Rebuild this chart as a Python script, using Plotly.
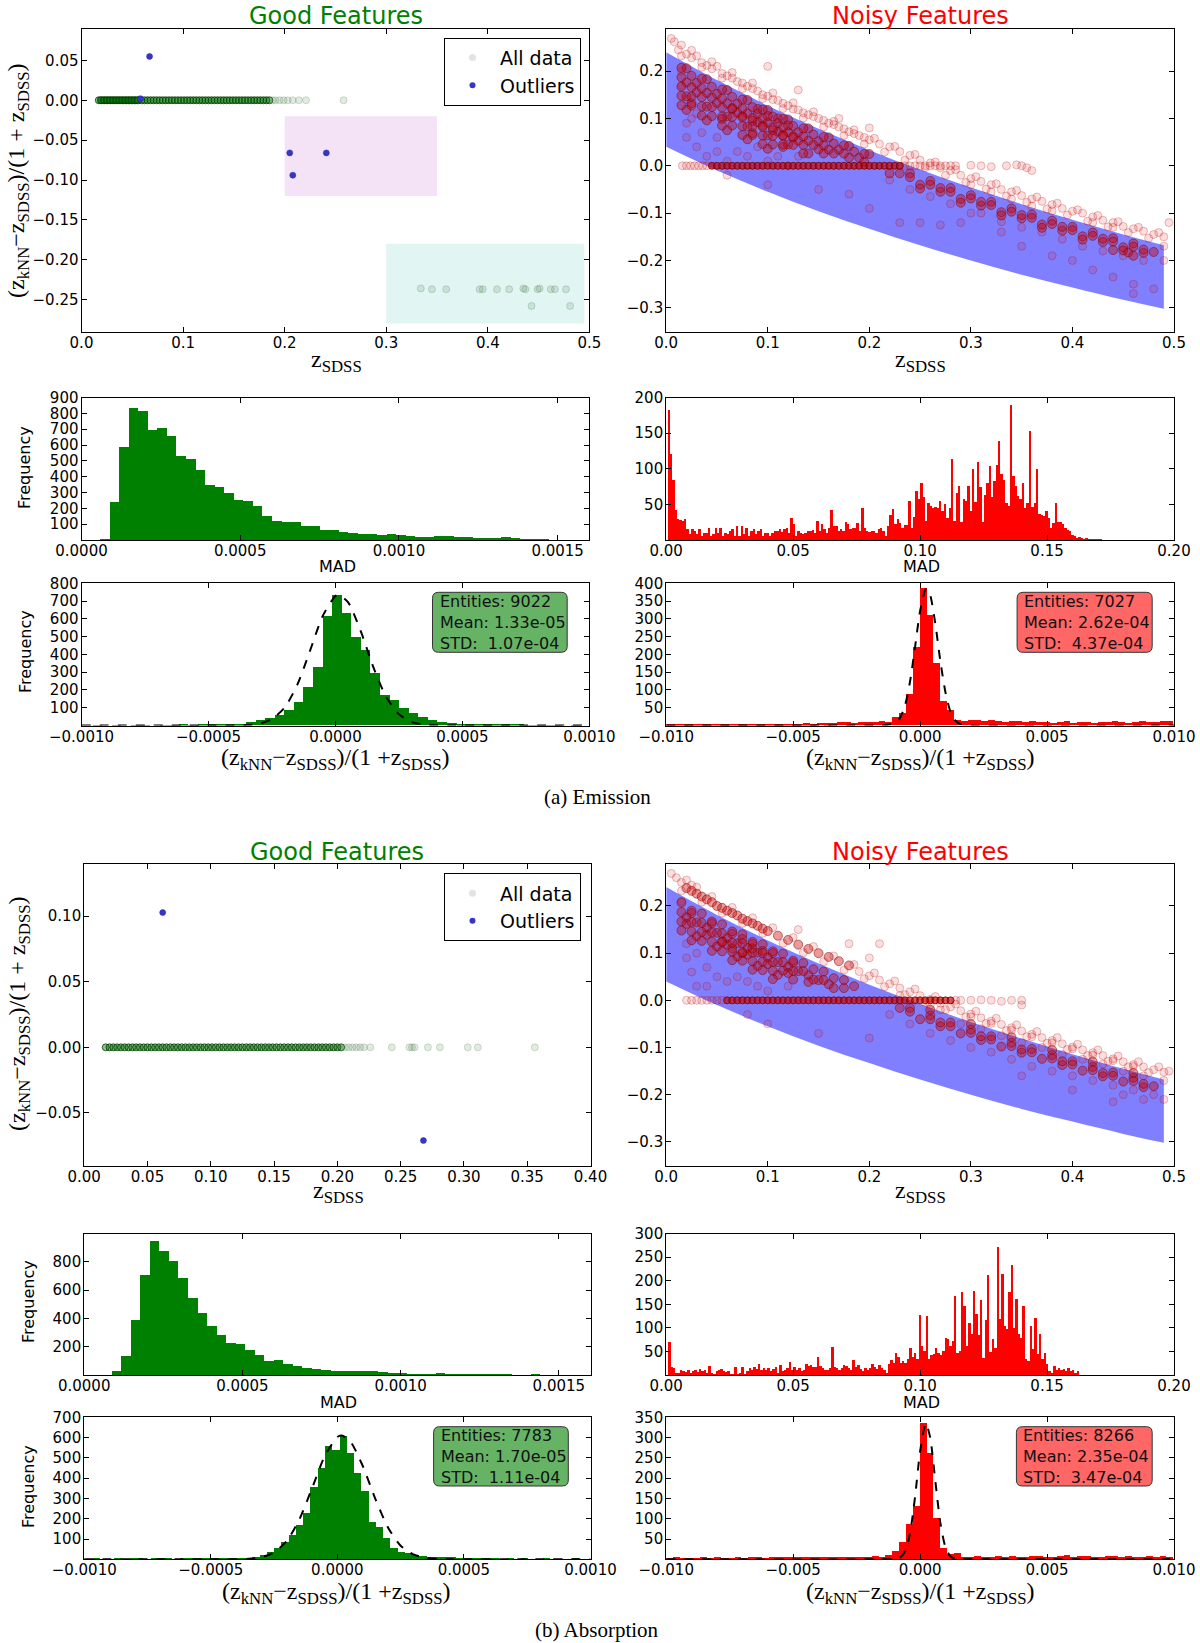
import plotly.graph_objects as go

W, H = 1200, 1643

# ============================ DATA ============================
# ---------- (a) Emission : Good Features scatter ----------
emi_good_x = [0.017,0.020,0.023,0.026,0.029,0.032,0.035,0.038,0.041,0.044,0.047,0.050,0.053,0.056,0.059,
              0.062,0.065,0.068,0.071,0.074,0.077,0.080,0.083,0.086,0.089,0.092,0.095,0.098,0.101,0.104,
              0.107,0.110,0.113,0.116,0.119,0.122,0.125,0.128,0.131,0.134,0.137,0.140,0.143,0.146,0.149,
              0.152,0.155,0.158,0.161,0.164,0.167,0.170,0.173,0.176,0.179,0.182,0.185,
              0.019,0.022,0.025,0.028,0.031,0.034,0.037,0.040,0.043,0.046,0.049,0.052,0.055]
emi_good_y = [0.0,0.0,0.0,0.0,0.0,0.0,0.0,0.0,0.0,0.0,0.0,0.0,0.0,0.0,0.0,
              0.0,0.0,0.0,0.0,0.0,0.0,0.0,0.0,0.0,0.0,0.0,0.0,0.0,0.0,0.0,
              0.0,0.0,0.0,0.0,0.0,0.0,0.0,0.0,0.0,0.0,0.0,0.0,0.0,0.0,0.0,
              0.0,0.0,0.0,0.0,0.0,0.0,0.0,0.0,0.0,0.0,0.0,0.0,
              0.0,0.0,0.0,0.0,0.0,0.0,0.0,0.0,0.0,0.0,0.0,0.0,0.0]
emi_faint_x = [0.188,0.191,0.195,0.199,0.203,0.208,0.214,0.221,0.258,
               0.334,0.345,0.359,0.392,0.395,0.409,0.421,0.435,0.437,0.449,0.451,0.462,0.466,0.477,
               0.443,0.481]
emi_faint_y = [0.0,0.0,0.0,0.0,0.0,0.0,0.0,0.0,0.0,
               -0.236,-0.237,-0.237,-0.237,-0.237,-0.237,-0.237,-0.236,-0.237,-0.237,-0.236,-0.237,-0.237,-0.237,
               -0.258,-0.258]
emi_out_x = [0.067, 0.058, 0.205, 0.241, 0.208]
emi_out_y = [0.055, 0.002, -0.066, -0.066, -0.094]

# ---------- (b) Absorption : Good Features scatter ----------
abs_good_x = [0.017,0.020,0.023,0.026,0.029,0.032,0.035,0.038,0.041,0.044,0.047,0.050,0.053,0.056,0.059,
              0.062,0.065,0.068,0.071,0.074,0.077,0.080,0.083,0.086,0.089,0.092,0.095,0.098,0.101,0.104,
              0.107,0.110,0.113,0.116,0.119,0.122,0.125,0.128,0.131,0.134,0.137,0.140,0.143,0.146,0.149,
              0.152,0.155,0.158,0.161,0.164,0.167,0.170,0.173,0.176,0.179,0.182,0.185,0.188,0.191,0.194,
              0.197,0.200,0.203]
abs_good_y = [0.0,0.0,0.0,0.0,0.0,0.0,0.0,0.0,0.0,0.0,0.0,0.0,0.0,0.0,0.0,
              0.0,0.0,0.0,0.0,0.0,0.0,0.0,0.0,0.0,0.0,0.0,0.0,0.0,0.0,0.0,
              0.0,0.0,0.0,0.0,0.0,0.0,0.0,0.0,0.0,0.0,0.0,0.0,0.0,0.0,0.0,
              0.0,0.0,0.0,0.0,0.0,0.0,0.0,0.0,0.0,0.0,0.0,0.0,0.0,0.0,0.0,
              0.0,0.0,0.0]
abs_faint_x = [0.206,0.209,0.212,0.215,0.218,0.221,0.226,0.243,0.257,0.259,0.261,0.2715,0.281,0.303,0.311,0.356]
abs_faint_y = [0.0,0.0,0.0,0.0,0.0,0.0,0.0,0.0,0.0,0.0,0.0,0.0,0.0,0.0,0.0,0.0]
abs_out_x = [0.062, 0.268]
abs_out_y = [0.1026, -0.071]

# ---------- Noisy features: shaded z_kNN band ----------
band_x   = [0.0, 0.05, 0.10, 0.15, 0.20, 0.25, 0.30, 0.35, 0.40, 0.45, 0.49]
band_top = [0.240, 0.181, 0.127, 0.078, 0.033, -0.008, -0.046, -0.081, -0.114, -0.145, -0.168]
band_bot = [0.040, -0.010, -0.055, -0.096, -0.133, -0.168, -0.200, -0.230, -0.257, -0.283, -0.302]

# upper tracks above the band (shared reading, both panels)
upper_track_a = [
    (0.005,0.269),(0.025,0.244),(0.045,0.220),(0.065,0.197),(0.085,0.175),(0.105,0.154),(0.125,0.133),
    (0.145,0.114),(0.165,0.094),(0.185,0.076),(0.205,0.058),(0.225,0.041),(0.245,0.024),(0.265,0.008),
    (0.285,-0.008),(0.305,-0.023),(0.325,-0.038),(0.345,-0.052),(0.365,-0.066),(0.385,-0.079),
    (0.405,-0.093),(0.425,-0.105),(0.445,-0.118),(0.465,-0.130),(0.485,-0.141)]
upper_track_b = [
    (0.015,0.232),(0.035,0.208),(0.055,0.185),(0.075,0.163),(0.095,0.142),(0.115,0.121),(0.135,0.101),
    (0.155,0.082),(0.175,0.064),(0.195,0.046),(0.215,0.029),(0.235,0.012),(0.255,-0.004),(0.275,-0.020),
    (0.295,-0.035),(0.315,-0.049),(0.335,-0.064),(0.355,-0.077),(0.375,-0.091),(0.395,-0.104),
    (0.415,-0.117),(0.435,-0.129),(0.455,-0.141),(0.475,-0.153)]
# extra dense in-band readings (shared by both noisy panels)
band_cloud = [
    (0.025,0.190),(0.045,0.167),(0.065,0.146),(0.085,0.124),(0.105,0.104),(0.125,0.084),(0.145,0.066),
    (0.165,0.047),(0.185,0.030),
    (0.025,0.166),(0.045,0.144),(0.065,0.122),(0.085,0.101),(0.105,0.081),(0.125,0.062),(0.145,0.044),(0.165,0.026),
    (0.025,0.146),(0.045,0.124),(0.065,0.103),(0.085,0.083),(0.105,0.063),(0.125,0.044),
    (0.025,0.127),(0.045,0.105),(0.065,0.085),(0.085,0.065),(0.105,0.045),
    (0.24,-0.024),(0.26,-0.040),(0.28,-0.055),(0.30,-0.069),(0.32,-0.083),(0.34,-0.097),(0.36,-0.110),
    (0.38,-0.123),(0.40,-0.136),(0.42,-0.148),(0.44,-0.160),(0.46,-0.171),(0.48,-0.182)]

# ---------- Emission noisy scatter ----------
emi_noisy_zero_x = [0.045,0.05,0.055,0.06,0.065,0.07,0.075,0.08,0.085,0.09,0.095,0.1,0.105,0.11,0.115,0.12,
                    0.125,0.13,0.135,0.14,0.145,0.15,0.155,0.16,0.165,0.17,0.175,0.18,0.185,0.19,0.195,0.2,
                    0.205,0.21,0.215,0.22,0.225,0.23]
emi_noisy_zero_y = [0.0,0.0,0.0,0.0,0.0,0.0,0.0,0.0,0.0,0.0,0.0,0.0,0.0,0.0,0.0,0.0,
                    0.0,0.0,0.0,0.0,0.0,0.0,0.0,0.0,0.0,0.0,0.0,0.0,0.0,0.0,0.0,0.0,
                    0.0,0.0,0.0,0.0,0.0,0.0]
emi_noisy_dense = [
    (0.02,0.206),(0.04,0.183),(0.06,0.160),(0.08,0.139),(0.10,0.118),(0.12,0.098),(0.14,0.079),(0.16,0.060),(0.18,0.042),(0.20,0.025),
    (0.03,0.175),(0.05,0.152),(0.07,0.131),(0.09,0.110),(0.11,0.090),(0.13,0.071),(0.15,0.052),(0.17,0.034),(0.19,0.017),
    (0.02,0.176),(0.04,0.154),(0.06,0.132),(0.08,0.111),(0.10,0.091),(0.12,0.071),(0.14,0.053),(0.16,0.034),(0.18,0.017),
    (0.03,0.155),(0.05,0.133),(0.07,0.112),(0.09,0.092),(0.11,0.072),(0.13,0.053),(0.15,0.035),
    (0.02,0.147),(0.04,0.125),(0.06,0.104),(0.08,0.083),(0.10,0.064),(0.12,0.045),(0.14,0.026),
    (0.025,0.132),(0.055,0.099),(0.085,0.069),(0.115,0.040),
    (0.02,0.118),(0.04,0.096),(0.06,0.075),(0.08,0.056),(0.10,0.036),
    (0.065,0.120),(0.075,0.105),(0.085,0.095),(0.095,0.085),(0.105,0.075),(0.115,0.065),(0.125,0.060),
    (0.09,0.120),(0.10,0.105),(0.11,0.100),(0.12,0.085),
    (0.015,0.207),(0.035,0.184),(0.055,0.161),(0.075,0.140),(0.095,0.119),(0.115,0.099),(0.135,0.079),
    (0.155,0.061),(0.175,0.043),(0.195,0.025),
    (0.015,0.187),(0.035,0.164),(0.055,0.142),(0.075,0.121),(0.095,0.100),(0.115,0.081),(0.135,0.062),
    (0.155,0.043),(0.175,0.026),(0.195,0.008),
    (0.015,0.167),(0.035,0.145),(0.055,0.123),(0.075,0.102),(0.095,0.082),(0.115,0.063),(0.135,0.044),(0.155,0.026),
    (0.015,0.148),(0.035,0.126),(0.055,0.104),(0.075,0.084),(0.095,0.064),(0.115,0.045),(0.135,0.026),
    (0.015,0.128),(0.035,0.106),(0.055,0.085),(0.075,0.065),(0.095,0.046),
    (0.24,-0.016),(0.26,-0.032),(0.28,-0.047),(0.30,-0.062),(0.32,-0.076),(0.34,-0.090),(0.36,-0.103),
    (0.38,-0.116),(0.40,-0.129),(0.42,-0.141),(0.44,-0.153),(0.46,-0.164),
    (0.22,-0.016),(0.25,-0.040),(0.27,-0.055),(0.29,-0.070),(0.31,-0.084),(0.33,-0.098),(0.35,-0.111),
    (0.37,-0.124),(0.39,-0.137),(0.41,-0.149),(0.43,-0.161),(0.45,-0.172),(0.47,-0.184),
    (0.23,-0.016),(0.27,-0.047),(0.31,-0.076),(0.35,-0.104),(0.39,-0.129),(0.43,-0.154),(0.47,-0.177),
    (0.25,-0.048),(0.29,-0.078),(0.33,-0.105),(0.37,-0.131),(0.41,-0.156),(0.45,-0.179),
    (0.44,-0.178),(0.455,-0.183),(0.46,-0.190),
] + band_cloud
emi_noisy_sparse = [
    (0.008,0.262),(0.012,0.245),(0.015,0.255),(0.02,0.236),(0.025,0.228),(0.03,0.232),(0.035,0.218),(0.04,0.212),
    (0.045,0.205),(0.05,0.210),(0.055,0.195),(0.06,0.190),(0.065,0.185),(0.07,0.178),(0.075,0.175),(0.08,0.168),
    (0.085,0.163),(0.09,0.158),(0.095,0.150),(0.10,0.147),(0.105,0.140),(0.11,0.138),(0.115,0.132),(0.12,0.127),
    (0.125,0.120),(0.13,0.118),(0.135,0.112),(0.14,0.108),(0.145,0.104),(0.15,0.100),(0.155,0.096),(0.16,0.090),
    (0.165,0.087),(0.17,0.082),(0.175,0.078),(0.18,0.072),(0.185,0.068),(0.19,0.064),(0.195,0.060),(0.20,0.055),
    (0.21,0.046),(0.22,0.040),(0.23,0.030),(0.24,0.022),(0.25,0.012),(0.26,0.006),(0.27,-0.004),(0.28,-0.010),
    (0.29,-0.020),(0.30,-0.027),(0.31,-0.033),(0.32,-0.040),(0.33,-0.050),(0.34,-0.055),(0.35,-0.063),(0.36,-0.070),
    (0.37,-0.075),(0.38,-0.082),(0.39,-0.090),(0.40,-0.096),(0.41,-0.100),(0.42,-0.108),(0.43,-0.115),(0.44,-0.120),
    (0.45,-0.128),(0.46,-0.133),(0.47,-0.138),(0.48,-0.145),(0.49,-0.150),
    (0.016,0.0),(0.02,0.0),(0.024,0.0),(0.028,0.0),(0.032,0.0),(0.036,0.0),(0.04,0.0),(0.235,0.0),(0.24,0.0),
    (0.245,0.0),(0.25,0.0),(0.255,0.0),(0.26,0.0),(0.265,0.0),(0.27,0.0),(0.275,0.0),(0.28,0.0),(0.285,0.0),
    (0.30,0.001),(0.31,0.0),(0.32,-0.002),(0.335,0.0),(0.345,0.002),(0.35,0.0),(0.355,-0.004),(0.36,-0.010),
    (0.015,0.200),(0.015,0.170),(0.02,0.140),(0.02,0.090),(0.02,0.060),(0.025,0.100),(0.03,0.040),(0.03,0.110),
    (0.035,0.070),(0.04,0.020),(0.05,0.060),(0.05,0.030),(0.06,0.010),(0.07,0.030),(0.08,0.020),(0.09,0.040),
    (0.10,0.010),(0.11,0.020),(0.12,0.0),(0.13,0.020),(0.10,0.210),(0.13,0.160),(0.17,0.100),(0.20,0.080),
    (0.06,-0.020),(0.10,-0.040),(0.15,-0.050),(0.18,-0.060),(0.20,-0.090),(0.23,-0.120),(0.25,-0.120),
    (0.27,-0.125),(0.29,-0.120),(0.30,-0.100),(0.33,-0.140),(0.35,-0.170),(0.38,-0.190),(0.40,-0.200),
    (0.42,-0.220),(0.44,-0.235),(0.46,-0.250),(0.46,-0.270),(0.48,-0.260),(0.49,-0.200),(0.49,-0.170),
    (0.495,-0.120),(0.47,-0.200),(0.45,-0.190),(0.43,-0.180),(0.41,-0.170),(0.39,-0.155),(0.37,-0.140),
    (0.35,-0.130),(0.33,-0.118),(0.31,-0.100),(0.28,-0.080),(0.26,-0.065),(0.24,-0.050),(0.22,-0.030),
    (0.30,-0.040),(0.32,-0.055),(0.34,-0.070),(0.36,-0.085),(0.38,-0.095),(0.42,-0.120),(0.44,-0.130),
] + upper_track_a + upper_track_b

# ---------- Absorption noisy scatter ----------
abs_noisy_zero_x = [0.06,0.065,0.07,0.075,0.08,0.085,0.09,0.095,0.1,0.105,0.11,0.115,0.12,0.125,0.13,
                    0.135,0.14,0.145,0.15,0.155,0.16,0.165,0.17,0.175,0.18,0.185,0.19,0.195,0.2,0.205,
                    0.21,0.215,0.22,0.225,0.23,0.235,0.24,0.245,0.25,0.255,0.26,0.265,0.27,0.275,0.28]
abs_noisy_zero_y = [0.0,0.0,0.0,0.0,0.0,0.0,0.0,0.0,0.0,0.0,0.0,0.0,0.0,0.0,0.0,
                    0.0,0.0,0.0,0.0,0.0,0.0,0.0,0.0,0.0,0.0,0.0,0.0,0.0,0.0,0.0,
                    0.0,0.0,0.0,0.0,0.0,0.0,0.0,0.0,0.0,0.0,0.0,0.0,0.0,0.0,0.0]
abs_noisy_dense = [
    (0.02,0.238),(0.025,0.232),(0.03,0.226),(0.035,0.220),(0.04,0.214),(0.045,0.208),(0.05,0.200),(0.055,0.196),
    (0.06,0.190),(0.065,0.185),(0.07,0.180),(0.075,0.173),(0.08,0.168),(0.085,0.163),(0.09,0.158),(0.095,0.152),
    (0.10,0.147),(0.11,0.137),(0.12,0.128),(0.13,0.118),(0.14,0.109),(0.15,0.100),(0.16,0.092),(0.17,0.083),(0.18,0.074),
    (0.02,0.176),(0.03,0.165),(0.04,0.154),(0.05,0.143),(0.06,0.132),(0.07,0.121),(0.08,0.111),(0.09,0.101),
    (0.10,0.091),(0.11,0.081),(0.12,0.071),(0.13,0.062),(0.14,0.053),(0.15,0.043),(0.16,0.034),
    (0.02,0.162),(0.04,0.139),(0.06,0.118),(0.08,0.097),(0.10,0.077),(0.12,0.058),(0.14,0.039),
    (0.03,0.136),(0.05,0.114),(0.07,0.093),(0.09,0.073),(0.11,0.054),
    (0.025,0.185),(0.045,0.163),(0.065,0.141),(0.085,0.120),(0.105,0.100),(0.125,0.080),
    (0.075,0.130),(0.085,0.110),(0.095,0.105),(0.075,0.100),(0.065,0.110),(0.055,0.125),
    (0.015,0.207),(0.035,0.184),(0.055,0.161),(0.075,0.140),(0.095,0.119),(0.115,0.099),(0.135,0.079),
    (0.155,0.061),(0.175,0.043),
    (0.015,0.187),(0.035,0.164),(0.055,0.142),(0.075,0.121),(0.095,0.100),(0.115,0.081),(0.135,0.062),
    (0.155,0.043),(0.175,0.026),
    (0.015,0.167),(0.035,0.145),(0.055,0.123),(0.075,0.102),(0.095,0.082),(0.115,0.063),
    (0.015,0.148),(0.035,0.126),(0.055,0.104),(0.075,0.084),(0.095,0.064),
    (0.24,-0.016),(0.26,-0.032),(0.28,-0.047),(0.30,-0.062),(0.32,-0.076),(0.34,-0.090),(0.36,-0.103),
    (0.38,-0.116),(0.40,-0.129),(0.42,-0.141),(0.44,-0.153),(0.46,-0.164),
    (0.25,-0.040),(0.27,-0.055),(0.29,-0.070),(0.31,-0.084),(0.33,-0.098),(0.35,-0.111),(0.37,-0.124),
    (0.39,-0.137),(0.41,-0.149),(0.43,-0.161),(0.45,-0.172),(0.47,-0.184),
    (0.23,-0.016),(0.27,-0.047),(0.31,-0.076),(0.35,-0.104),(0.39,-0.129),(0.43,-0.154),(0.47,-0.177),
    (0.26,-0.020),(0.30,-0.050),(0.34,-0.078),(0.38,-0.105),(0.42,-0.130),(0.46,-0.154),
] + band_cloud
abs_noisy_sparse = [
    (0.01,0.260),(0.015,0.250),(0.02,0.255),(0.03,0.240),
    (0.19,0.061),(0.20,0.052),(0.21,0.043),(0.22,0.035),(0.23,0.026),(0.24,0.018),(0.25,0.010),(0.26,0.002),
    (0.27,-0.006),(0.28,-0.014),(0.29,-0.022),(0.30,-0.029),(0.31,-0.037),(0.32,-0.044),(0.33,-0.051),
    (0.34,-0.058),(0.35,-0.065),(0.36,-0.072),(0.37,-0.079),(0.38,-0.085),(0.39,-0.092),(0.40,-0.099),
    (0.41,-0.105),(0.42,-0.111),(0.43,-0.117),(0.44,-0.124),(0.45,-0.130),(0.46,-0.136),(0.47,-0.141),
    (0.48,-0.147),(0.49,-0.152),
    (0.30,-0.035),(0.32,-0.049),(0.34,-0.063),(0.36,-0.077),(0.38,-0.090),(0.40,-0.103),(0.42,-0.116),
    (0.44,-0.128),(0.46,-0.140),
    (0.02,0.0),(0.025,0.0),(0.03,0.0),(0.035,0.0),(0.04,0.0),(0.045,0.0),(0.05,0.0),(0.055,0.0),
    (0.285,0.0),(0.29,0.0),(0.30,0.0),(0.31,0.001),(0.32,0.0),(0.33,-0.002),(0.34,0.0),(0.35,0.0),
    (0.015,0.210),(0.02,0.120),(0.02,0.090),(0.025,0.060),(0.03,0.100),(0.03,0.030),(0.04,0.070),
    (0.04,0.030),(0.05,0.050),(0.06,0.040),(0.07,0.050),(0.08,0.040),(0.09,0.030),(0.10,0.020),
    (0.12,0.030),(0.13,0.150),(0.18,0.120),(0.20,0.090),(0.21,0.120),(0.08,-0.030),(0.10,-0.050),
    (0.15,-0.070),(0.20,-0.080),(0.22,-0.030),(0.24,-0.050),(0.26,-0.070),(0.28,-0.085),(0.30,-0.100),
    (0.32,-0.110),(0.34,-0.125),(0.36,-0.140),(0.38,-0.150),(0.40,-0.160),(0.42,-0.170),(0.44,-0.180),
    (0.46,-0.190),(0.48,-0.200),(0.49,-0.210),(0.49,-0.170),(0.495,-0.150),(0.45,-0.200),(0.47,-0.210),
    (0.35,-0.160),(0.40,-0.190),(0.44,-0.215),(0.29,-0.050),(0.31,-0.060),(0.33,-0.075),(0.35,-0.090),
    (0.37,-0.100),(0.39,-0.115),(0.41,-0.125),(0.43,-0.135),(0.45,-0.150),(0.47,-0.160),(0.35,-0.010),
    (0.26,-0.010),(0.27,-0.020),(0.23,0.010),
] + upper_track_a + upper_track_b

# ---------- MAD histograms: (first bin edge, bin width, counts) ----------
emi_good_mad_start, emi_good_mad_width = 0.0000567, 0.0000301
emi_good_mad_counts = [10,241,588,839,816,700,712,658,536,515,443,353,336,300,258,247,220,153,121,117,
                       117,89,89,68,68,54,47,43,39,35,39,33,26,24,20,26,30,24,20,18,16,16,22,14,12,12,10]
abs_good_mad_start, abs_good_mad_width = 0.0000878, 0.0000301
abs_good_mad_counts = [35,141,393,711,948,882,812,687,548,442,348,287,231,224,181,148,106,113,78,66,
                       52,45,40,31,35,33,35,31,24,19,16,14,12,9,16,12,7,9,7,7,5,5,2,2,5,2]
emi_noisy_mad_start, emi_noisy_mad_width = 0.0006, 0.00093
emi_noisy_mad_counts = [183,122,85,43,30,29,27,30,16,9, 16,13,9,16,6,11,11,17,7,9,
                        18,11,17,7,11,9,13,16,6,21, 6,20,9,17,6,13,16,9,13,16,
                        6,11,11,6,11,13,14,16,12,16, 18,11,32,23,7,13,11,9,11,13,
                        14,15,11,27,13,23,16,11,18,43, 21,20,13,16,13,26,23,16,18,18,
                        24,13,46,18,13,12,14,14,11,16,
                        17,14,7,21,36,44,23,30,24,17, 22,22,56,17,33,69,58,81,61,28,
                        52,49,45,47,45,55,42,51,32,46, 115,28,67,77,26,58,56,77,42,101,
                        54,110,75,26,64,81,104,61,84,106, 140,94,85,53,49,190,90,77,63,58,
                        81,45,52,154,47,52,101,37,36,34, 42,31,18,25,53,26,26,23,18,15,
                        14,8,6,4,5,3,2,3,2,1, 1,1,1,1]
abs_noisy_mad_start, abs_noisy_mad_width = 0.0009, 0.00093
abs_noisy_mad_counts = [71,18,15,6,6,12,9,8,11,6, 9,11,8,13,9,11,6,20,6,4,
                        9,12,13,9,7,9,4,2,18,4, 6,19,4,9,16,12,18,13,25,12,
                        15,11,16,9,13,19,6,22,9,11, 15,28,12,18,11,15,9,12,25,20,
                        22,19,18,39,21,15,12,11,15,60, 18,15,11,16,22,20,15,11,32,18,
                        22,13,9,15,12,16,25,18,13,23,
                        16,11,6,25,32,27,48,39,27,30, 27,36,59,39,48,34,128,62,53,126,
                        34,43,46,59,48,43,52,80,77,62, 73,169,48,52,178,147,62,112,87,179,
                        130,86,160,38,117,213,50,77,59,272, 119,216,105,98,176,235,101,162,89,79,
                        148,34,30,105,57,121,45,89,34,48, 25,9,6,20,11,16,11,13,9,15,
                        9,11,6,9,1, 1,1,0,1,0,1,0,0,1]

# ---------- Residual histograms ----------
emi_good_res_start, emi_good_res_width = -0.0009954, 0.0000377
emi_good_res_counts = [0,1,0,1,0,1,1,0,1,1,2,1,2,2,3,4,
                       5,19,32,38,56,85,132,213,329,612,
                       735,630,499,423,292,169,141,94,66,47,
                       28,19,13,9,8,6,4,3,2,2,
                       1,1,1,1,0,1,0]
abs_good_res_start, abs_good_res_width = -0.000995, 0.0000287
abs_good_res_counts = [0,1,0,0,1,0,1,1,0,1,1,1,0,1,2,1,1,2,2,2,3,3,4,
                       8,20,36,53,86,119,168,226,357,448,555,535,608,522,423,333,184,160,102,53,36,28,
                       20,15,12,8,7,5,3,2,1,
                       1,1,1,0,1,0,1,0,0,1,0,0,0,1,0,0]
emi_noisy_res_start, emi_noisy_res_width = -0.01, 0.00027
emi_noisy_res_counts = [3,1,2,3,2,2,3,1,2,3, 2,3,3,2,4,3,3,4,3,4, 5,4,6,5,7,9,8,6,10,9,
                        10,12,9,22,33,89,221,386,310,175,68,42,14,
                        12,16,14,12,15,13,10,12,11,9, 12,8,10,7,9,11,6,8,9,7,
                        10,8,12,9,7,10,11,8,9,12, 13]
abs_noisy_res_start, abs_noisy_res_width = -0.01, 0.00027
abs_noisy_res_counts = [2,3,2,1,2,3,2,3,2,2, 3,2,4,3,2,3,4,3,4,3, 5,4,3,5,4,6,5,4,6,5, 8,6,9,
                        20,43,86,130,335,262,100,26,12,14,
                        6,5,7,6,5,8,6,7,5,6, 8,7,6,5,7,9,6,8,7,6, 5,7,8,6,7,6,5,8,6,7, 6]

# ---------- Fitted normal curves (dashed) ----------
emi_good_fit_x = [-0.001,-0.0005,-0.0004,-0.00035,-0.0003,-0.00025,-0.0002,-0.00015,-0.0001,-0.00005,0.0,
                  0.0000133,0.00005,0.0001,0.00015,0.0002,0.00025,0.0003,0.00035,0.0004,0.00045,0.0005,0.001]
emi_good_fit_y = [0,0,0.4,2.3,10,36,101,230,421,617,729,735,693,529,325,160,64,20,5,1.3,0.2,0,0]
abs_good_fit_x = [-0.001,-0.0005,-0.0004,-0.00035,-0.0003,-0.00025,-0.0002,-0.00015,-0.0001,-0.00005,0.0,
                  0.000017,0.00005,0.0001,0.00015,0.0002,0.00025,0.0003,0.00035,0.0004,0.00045,0.0005,0.001]
abs_good_fit_y = [0,0,0.5,2.6,10,34,90,197,350,508,603,610,584,461,298,157,67,24,7,1.6,0.3,0,0]
emi_noisy_fit_x = [-0.01,-0.002,-0.0015,-0.001,-0.0008,-0.0006,-0.0004,-0.0002,0.0,0.0002,0.00026,0.0004,
                   0.0006,0.0008,0.001,0.0012,0.0014,0.0016,0.002,0.01]
emi_noisy_fit_y = [0,0,0.1,6,20,55,122,220,322,381,385,366,286,180,93,38,13,3.5,0.2,0]
abs_noisy_fit_x = [-0.01,-0.0015,-0.001,-0.0008,-0.0006,-0.0004,-0.0002,0.0,0.0002,0.000235,0.0004,0.0006,
                   0.0008,0.001,0.0012,0.0014,0.0016,0.002,0.01]
abs_noisy_fit_y = [0,0,0.6,4,18.5,63,153,266,333,335,299,193,89,29.5,7,1.2,0.1,0,0]

# ---------- Stats boxes ----------
stats = {
    5:  ("9022", "1.33e-05", "1.07e-04"),
    6:  ("7027", "2.62e-04", "4.37e-04"),
    11: ("7783", "1.70e-05", "1.11e-04"),
    12: ("8266", "2.35e-04", "3.47e-04"),
}

# ============================ LAYOUT (page pixel positions) ============================
LEFT_A = (81.5, 589.4)
LEFT_B = (84.2, 590.5)
RIGHT = (666.2, 1174.0)
ROW = {'As': (28.5, 331.5), 'Am': (397.5, 540.0), 'Ar': (583.3, 725.5),
       'Bs': (863.5, 1165.5), 'Bm': (1233.5, 1375.0), 'Br': (1417.3, 1559.3)}

GREEN = '#008000'
RED = '#ff0000'
SANS = 'DejaVu Sans'
SERIF = 'Liberation Serif'


def X(p):
    return p / W


def Y(p):
    return 1 - p / H


def fmt(v, f):
    return format(v, f).replace('-', '\u2212')


fig = go.Figure()


def axref(i):
    return ('x' if i == 1 else f'x{i}', 'y' if i == 1 else f'y{i}')


def add_axes(i, xpx, ypx, xr, yr, xt, xf, yt, yf):
    common = dict(showline=True, linecolor='black', linewidth=1, mirror='ticks', ticks='inside',
                  ticklen=5, tickwidth=1, tickcolor='black', showgrid=False, zeroline=False,
                  automargin=False,
                  tickfont=dict(family=SANS, size=15, color='black'))
    xa = 'xaxis' if i == 1 else f'xaxis{i}'
    ya = 'yaxis' if i == 1 else f'yaxis{i}'
    xr_, yr_ = axref(i)
    fig.layout[xa] = dict(domain=[X(xpx[0]), X(xpx[1])], range=xr, anchor=yr_, ticklabelstandoff=-3,
                          tickmode='array', tickvals=xt, ticktext=[fmt(v, xf) for v in xt], **common)
    fig.layout[ya] = dict(domain=[Y(ypx[1]), Y(ypx[0])], range=yr, anchor=xr_, ticklabelstandoff=-1,
                          tickmode='array', tickvals=yt, ticktext=[fmt(v, yf) for v in yt], **common)


zs = [0.0, 0.1, 0.2, 0.3, 0.4, 0.5]
noisy_y = [-0.3, -0.2, -0.1, 0.0, 0.1, 0.2]
mad_good_t = [0.0, 0.0005, 0.001, 0.0015]
mad_noisy_t = [0.0, 0.05, 0.1, 0.15, 0.2]
res_good_t = [-0.001, -0.0005, 0.0, 0.0005, 0.001]
res_noisy_t = [-0.01, -0.005, 0.0, 0.005, 0.01]

add_axes(1, LEFT_A, ROW['As'], [0, 0.5], [-0.29, 0.09], zs, '.1f',
         [-0.25, -0.2, -0.15, -0.1, -0.05, 0.0, 0.05], '.2f')
add_axes(2, RIGHT, ROW['As'], [0, 0.5], [-0.35, 0.29], zs, '.1f', noisy_y, '.1f')
add_axes(3, LEFT_A, ROW['Am'], [0, 0.0016], [0, 900], mad_good_t, '.4f',
         [100, 200, 300, 400, 500, 600, 700, 800, 900], 'd')
add_axes(4, RIGHT, ROW['Am'], [0, 0.2], [0, 200], mad_noisy_t, '.2f', [50, 100, 150, 200], 'd')
add_axes(5, LEFT_A, ROW['Ar'], [-0.001, 0.001], [0, 800], res_good_t, '.4f',
         [100, 200, 300, 400, 500, 600, 700, 800], 'd')
add_axes(6, RIGHT, ROW['Ar'], [-0.01, 0.01], [0, 400], res_noisy_t, '.3f',
         [50, 100, 150, 200, 250, 300, 350, 400], 'd')
add_axes(7, LEFT_B, ROW['Bs'], [0, 0.4], [-0.09, 0.14],
         [0.0, 0.05, 0.1, 0.15, 0.2, 0.25, 0.3, 0.35, 0.4], '.2f', [-0.05, 0.0, 0.05, 0.1], '.2f')
add_axes(8, RIGHT, ROW['Bs'], [0, 0.5], [-0.35, 0.29], zs, '.1f', noisy_y, '.1f')
add_axes(9, LEFT_B, ROW['Bm'], [0, 0.0016], [0, 1000], mad_good_t, '.4f', [200, 400, 600, 800], 'd')
add_axes(10, RIGHT, ROW['Bm'], [0, 0.2], [0, 300], mad_noisy_t, '.2f', [50, 100, 150, 200, 250, 300], 'd')
add_axes(11, LEFT_B, ROW['Br'], [-0.001, 0.001], [0, 700], res_good_t, '.4f',
         [100, 200, 300, 400, 500, 600, 700], 'd')
add_axes(12, RIGHT, ROW['Br'], [-0.01, 0.01], [0, 350], res_noisy_t, '.3f',
         [50, 100, 150, 200, 250, 300, 350], 'd')

# ---------------- good scatter panels ----------------
line_marker = dict(size=7, color='rgba(0,115,0,0.45)', line=dict(color='rgba(0,55,0,0.75)', width=1))
faint_marker = dict(size=7, color='rgba(70,130,70,0.16)', line=dict(color='rgba(70,110,70,0.22)', width=1))
out_marker = dict(size=6, color='#3535c8', line=dict(color='#2a2aa0', width=0.5))

for i, (gx, gy, fx, fy, ox, oy, leg) in {
        1: (emi_good_x, emi_good_y, emi_faint_x, emi_faint_y, emi_out_x, emi_out_y, 'legend'),
        7: (abs_good_x, abs_good_y, abs_faint_x, abs_faint_y, abs_out_x, abs_out_y, 'legend2')}.items():
    xa, ya = axref(i)
    fig.add_trace(go.Scatter(x=gx, y=gy, mode='markers', marker=line_marker, xaxis=xa, yaxis=ya, showlegend=False))
    fig.add_trace(go.Scatter(x=fx, y=fy, mode='markers', marker=faint_marker, xaxis=xa, yaxis=ya, showlegend=False))
    fig.add_trace(go.Scatter(x=ox, y=oy, mode='markers', marker=out_marker, xaxis=xa, yaxis=ya, showlegend=False))
    fig.add_trace(go.Scatter(x=[None], y=[None], mode='markers', name='All data', legend=leg,
                             marker=dict(size=7, color='rgba(170,180,170,0.35)'), xaxis=xa, yaxis=ya))
    fig.add_trace(go.Scatter(x=[None], y=[None], mode='markers', name='Outliers', legend=leg,
                             marker=dict(size=6, color='#3535c8'), xaxis=xa, yaxis=ya))

# highlighted regions (panel 1)
fig.add_shape(type='rect', xref='x', yref='y', x0=0.2, x1=0.35, y0=-0.12, y1=-0.02,
              fillcolor='#f4e2f6', line=dict(width=0), layer='below')
fig.add_shape(type='rect', xref='x', yref='y', x0=0.3, x1=0.495, y0=-0.28, y1=-0.18,
              fillcolor='#e1f5f3', line=dict(width=0), layer='below')

# ---------------- noisy scatter panels ----------------
sparse_marker = dict(size=8, color='rgba(235,0,0,0.13)', line=dict(color='rgba(170,0,0,0.25)', width=1))
dense_marker = dict(size=9, color='rgba(205,0,0,0.40)', line=dict(color='rgba(130,0,0,0.5)', width=1))
zero_marker = dict(size=7, color='rgba(200,0,0,0.65)', line=dict(color='rgba(110,0,0,0.8)', width=1))

for i, (zx, zy, dense, sparse) in {
        2: (emi_noisy_zero_x, emi_noisy_zero_y, emi_noisy_dense, emi_noisy_sparse),
        8: (abs_noisy_zero_x, abs_noisy_zero_y, abs_noisy_dense, abs_noisy_sparse)}.items():
    xa, ya = axref(i)
    fig.add_trace(go.Scatter(x=band_x, y=band_top, mode='lines', line=dict(width=0, shape='spline'),
                             xaxis=xa, yaxis=ya, showlegend=False, hoverinfo='skip'))
    fig.add_trace(go.Scatter(x=band_x, y=band_bot, mode='lines', line=dict(width=0, shape='spline'),
                             fill='tonexty', fillcolor='rgba(0,0,255,0.5)',
                             xaxis=xa, yaxis=ya, showlegend=False, hoverinfo='skip'))
    fig.add_trace(go.Scatter(x=[p[0] for p in sparse], y=[p[1] for p in sparse], mode='markers',
                             marker=sparse_marker, xaxis=xa, yaxis=ya, showlegend=False))
    fig.add_trace(go.Scatter(x=[p[0] for p in dense], y=[p[1] for p in dense], mode='markers',
                             marker=dense_marker, xaxis=xa, yaxis=ya, showlegend=False))
    fig.add_trace(go.Scatter(x=zx, y=zy, mode='markers', marker=zero_marker,
                             xaxis=xa, yaxis=ya, showlegend=False))

# ---------------- histograms ----------------
def add_hist(i, start, width, counts, color):
    xa, ya = axref(i)
    centers = [start + (k + 0.5) * width for k in range(len(counts))]
    fig.add_trace(go.Bar(x=centers, y=counts, width=width, marker=dict(color=color, line=dict(width=0)),
                         xaxis=xa, yaxis=ya, showlegend=False))


add_hist(3, emi_good_mad_start, emi_good_mad_width, emi_good_mad_counts, GREEN)
add_hist(4, emi_noisy_mad_start, emi_noisy_mad_width, emi_noisy_mad_counts, RED)
add_hist(5, emi_good_res_start, emi_good_res_width, emi_good_res_counts, GREEN)
add_hist(6, emi_noisy_res_start, emi_noisy_res_width, emi_noisy_res_counts, RED)
add_hist(9, abs_good_mad_start, abs_good_mad_width, abs_good_mad_counts, GREEN)
add_hist(10, abs_noisy_mad_start, abs_noisy_mad_width, abs_noisy_mad_counts, RED)
add_hist(11, abs_good_res_start, abs_good_res_width, abs_good_res_counts, GREEN)
add_hist(12, abs_noisy_res_start, abs_noisy_res_width, abs_noisy_res_counts, RED)

for i, fx, fy in [(5, emi_good_fit_x, emi_good_fit_y), (6, emi_noisy_fit_x, emi_noisy_fit_y),
                  (11, abs_good_fit_x, abs_good_fit_y), (12, abs_noisy_fit_x, abs_noisy_fit_y)]:
    xa, ya = axref(i)
    fig.add_trace(go.Scatter(x=fx, y=fy, mode='lines', line=dict(color='black', width=2, dash='dash',
                                                                   shape='spline', smoothing=0.7),
                             xaxis=xa, yaxis=ya, showlegend=False))

# ---------------- stats boxes ----------------
def rbox(x0, y0, x1, y1, r=6):
    return (f"M {X(x0 + r)},{Y(y0)} L {X(x1 - r)},{Y(y0)} Q {X(x1)},{Y(y0)} {X(x1)},{Y(y0 + r)} "
            f"L {X(x1)},{Y(y1 - r)} Q {X(x1)},{Y(y1)} {X(x1 - r)},{Y(y1)} L {X(x0 + r)},{Y(y1)} "
            f"Q {X(x0)},{Y(y1)} {X(x0)},{Y(y1 - r)} L {X(x0)},{Y(y0 + r)} Q {X(x0)},{Y(y0)} {X(x0 + r)},{Y(y0)} Z")


box_px = {5: (432.5, 592.3, 567.2, 652.3, 'rgba(0,128,0,0.6)'),
          6: (1017.1, 592.3, 1152.2, 652.3, 'rgba(255,0,0,0.6)'),
          11: (433.6, 1426.7, 568.3, 1486.0, 'rgba(0,128,0,0.6)'),
          12: (1016.4, 1426.7, 1152.2, 1486.0, 'rgba(255,0,0,0.6)')}
for i, (x0, y0, x1, y1, col) in box_px.items():
    ent, mean, std = stats[i]
    fig.add_shape(type='path', xref='paper', yref='paper', path=rbox(x0, y0, x1, y1),
                  fillcolor=col, line=dict(color='#333333', width=1))
    fig.add_annotation(xref='paper', yref='paper', x=X(x0 + 5), y=Y((y0 + y1) / 2), xanchor='left',
                       yanchor='middle', align='left', showarrow=False,
                       text=f"Entities: {ent}<br>Mean: {mean}<br>STD:\u00a0\u00a0{std}",
                       font=dict(family=SANS, size=16, color='#111111'))

# ---------------- text ----------------
def ann(text, xpx, ypx, size, family, color='black', angle=0):
    fig.add_annotation(xref='paper', yref='paper', x=X(xpx), y=Y(ypx), text=text, showarrow=False,
                       xanchor='center', yanchor='middle', textangle=angle,
                       font=dict(family=family, size=size, color=color))


ann('Good Features', 335.5, 16, 24, SANS, GREEN)
ann('Noisy Features', 920, 16, 24, SANS, RED)
ann('Good Features', 337.4, 852, 24, SANS, GREEN)
ann('Noisy Features', 920, 852, 24, SANS, RED)

zlab = 'z<sub>SDSS</sub>'
ann(zlab, 336, 361, 24, SERIF)
ann(zlab, 920, 361, 24, SERIF)
ann(zlab, 338, 1192, 24, SERIF)
ann(zlab, 920, 1192, 24, SERIF)

ylab = '(z<sub>kNN</sub>\u2212z<sub>SDSS</sub>)/(1 + z<sub>SDSS</sub>)'
ann(ylab, 18, 181, 24, SERIF, angle=-90)
ann(ylab, 19, 1014, 24, SERIF, angle=-90)

reslab = '(z<sub>kNN</sub>\u2212z<sub>SDSS</sub>)/(1 +z<sub>SDSS</sub>)'
ann(reslab, 335, 759, 24, SERIF)
ann(reslab, 920, 759, 24, SERIF)
ann(reslab, 336, 1593, 24, SERIF)
ann(reslab, 920, 1593, 24, SERIF)

ann('MAD', 337, 566, 16, SANS)
ann('MAD', 921, 566, 16, SANS)
ann('MAD', 339, 1402, 16, SANS)
ann('MAD', 921, 1402, 16, SANS)

ann('Frequency', 25, 468, 16, SANS, angle=-90)
ann('Frequency', 25, 652, 16, SANS, angle=-90)
ann('Frequency', 28, 1302, 16, SANS, angle=-90)
ann('Frequency', 28, 1487, 16, SANS, angle=-90)

ann('(a) Emission', 597, 797, 21, SERIF)
ann('(b) Absorption', 597, 1630, 21, SERIF)

legend_style = dict(bgcolor='white', bordercolor='black', borderwidth=1, xanchor='right', yanchor='top',
                    font=dict(family=SANS, size=19, color='black'), itemwidth=45, tracegroupgap=2,
                    traceorder='normal')
fig.update_layout(
    width=W, height=H, margin=dict(l=0, r=0, t=0, b=0, autoexpand=False),
    paper_bgcolor='white', plot_bgcolor='white', barmode='overlay', bargap=0,
    legend=dict(x=X(581), y=Y(37.7), **legend_style),
    legend2=dict(x=X(581), y=Y(873.3), **legend_style),
)

# place the figure flush with the page corner (remove the default body margin), hide the mode bar
fig.write_html('out.html', config={'displayModeBar': False},
               post_script="document.body.style.margin='0px';")
